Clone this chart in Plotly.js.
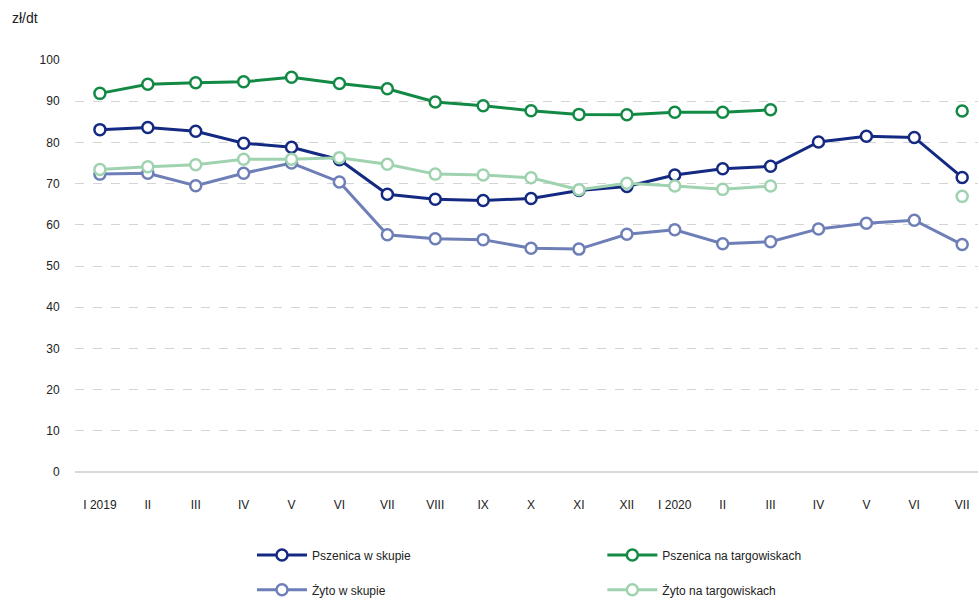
<!DOCTYPE html>
<html>
<head>
<meta charset="utf-8">
<script src="https://cdn.plot.ly/plotly-3.0.1.min.js"></script>
<style>html,body{margin:0;padding:0;background:#fff;}#chart{width:979px;height:602px;}</style>
</head>
<body>
<div id="chart"></div>
<script>
const months = ["I 2019","II","III","IV","V","VI","VII","VIII","IX","X","XI","XII","I 2020","II","III","IV","V","VI","VII"];
const pszenicaSkup = [83.1,83.6,82.7,79.8,78.8,75.8,67.4,66.2,65.9,66.4,68.3,69.3,72.1,73.6,74.2,80.1,81.5,81.2,71.5];
const pszenicaTarg = [91.9,94.1,94.5,94.7,95.8,94.3,93.0,89.8,88.9,87.7,86.8,86.7,87.3,87.3,87.9,null,null,null,87.6];
const zytoSkup = [72.3,72.5,69.5,72.5,75.0,70.4,57.6,56.6,56.4,54.3,54.1,57.7,58.8,55.4,55.9,59.0,60.4,61.1,55.2];
const zytoTarg = [73.4,74.1,74.6,75.9,75.9,76.3,74.7,72.3,72.1,71.4,68.5,70.1,69.4,68.6,69.4,null,null,null,66.9];

const xIdx = months.map((m,i)=>i);
const FONT = "'Liberation Sans Narrow', 'Arial Narrow', 'Liberation Sans', Arial, sans-serif";

function tr(name, y, color, legend){
  return {
    type:'scatter', mode:'lines+markers', name:name, x:xIdx, y:y,
    connectgaps:false,
    line:{color:color, width:3},
    marker:{symbol:'circle', size:11, color:'#ffffff', line:{color:color, width:2.5}},
    legend: legend,
    hoverinfo:'x+y'
  };
}

const data = [
  tr('Pszenica w skupie', pszenicaSkup, '#142a82', 'legend'),
  tr('Pszenica na targowiskach', pszenicaTarg, '#128a45', 'legend2'),
  tr('Żyto w skupie', zytoSkup, '#6e7fb8', 'legend3'),
  tr('Żyto na targowiskach', zytoTarg, '#9fd3b0', 'legend4')
];

function lg(x, y){
  return {
    orientation:'h', xanchor:'left', yanchor:'middle', xref:'paper', yref:'paper',
    x:x, y:y, font:{family:FONT, size:12, color:'#222'}, bgcolor:'rgba(0,0,0,0)', itemwidth:50
  };
}

const layout = {
  width:979, height:602,
  margin:{l:75, r:1, t:60, b:130, autoexpand:false},
  paper_bgcolor:'#ffffff', plot_bgcolor:'#ffffff',
  font:{family:FONT, size:12, color:'#222'},
  showlegend:true,
  legend: lg(0.196, -0.2015),
  legend2: lg(0.584, -0.2015),
  legend3: lg(0.196, -0.286),
  legend4: lg(0.584, -0.286),
  xaxis:{
    range:[-0.52, 18.33], tickmode:'array', tickvals:xIdx, ticktext:months,
    showgrid:false, zeroline:false, showline:false,
    ticks:'outside', ticklen:22, tickcolor:'rgba(0,0,0,0)',
    tickfont:{family:FONT, size:12, color:'#222'}, fixedrange:true
  },
  yaxis:{
    range:[0,100], dtick:10, tick0:0,
    showgrid:true, gridcolor:'#d4d4d4', griddash:'dash', gridwidth:1,
    zeroline:true, zerolinecolor:'#d9d9d9', zerolinewidth:1.5,
    showline:false, ticks:'outside', ticklen:12, tickcolor:'rgba(0,0,0,0)',
    tickfont:{family:FONT, size:12, color:'#222'}, fixedrange:true
  },
  annotations:[{
    text:'zł/dt', xref:'paper', yref:'paper', x:-0.072, y:1.102,
    xanchor:'left', yanchor:'middle', showarrow:false,
    font:{family:FONT, size:14, color:'#222'}
  }]
};

Plotly.newPlot('chart', data, layout, {displayModeBar:false, staticPlot:true});
</script>
</body>
</html>
